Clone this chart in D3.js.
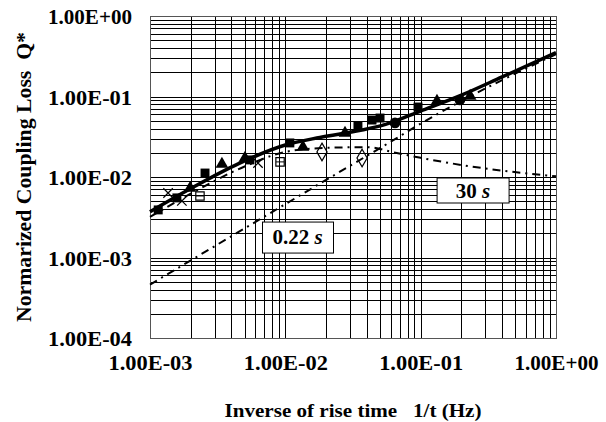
<!DOCTYPE html>
<html>
<head>
<meta charset="utf-8">
<script src="https://cdn.jsdelivr.net/npm/d3@7"></script>
<style>
body { margin: 0; background: #fff; }
text { font-family: "Liberation Serif", "Times New Roman", serif; font-weight: bold; fill: #000; white-space: pre; }
</style>
</head>
<body>
<svg id="chart" width="606" height="422"></svg>
<script>
/*
Chart data
*/
var xTickVals = [1e-3, 1e-2, 1e-1, 1];
var xTickLabels = ["1.00E-03", "1.00E-02", "1.00E-01", "1.00E+00"];
var yTickVals = [1e-4, 1e-3, 1e-2, 1e-1, 1];
var yTickLabels = ["1.00E-04", "1.00E-03", "1.00E-02", "1.00E-01", "1.00E+00"];

// fitted total curve
var totalF = [1e-3, 2e-3, 4.6e-3, 0.01, 0.018, 0.036, 0.055, 0.1, 0.2, 0.4, 1];
var totalQ = [3.7e-3, 7.2e-3, 0.0149, 0.025, 0.031, 0.038, 0.045, 0.066, 0.104, 0.175, 0.35];
// 30 s component
var slowF = [1e-3, 2e-3, 5e-3, 0.01, 0.02, 0.04, 0.065, 0.1, 0.2, 0.4, 1];
var slowQ = [3.2e-3, 6.2e-3, 0.0135, 0.0205, 0.023, 0.0235, 0.020, 0.0173, 0.0141, 0.012, 0.0102];
// 0.22 s component
var fastF = [1e-3, 2e-3, 5e-3, 0.01, 0.02, 0.04, 0.07, 0.1, 0.2, 0.4, 1];
var fastQ = [4.6e-4, 9.2e-4, 2.3e-3, 4.6e-3, 9.2e-3, 0.0183, 0.032, 0.046, 0.088, 0.16, 0.335];

// measured points
var sqF = [1.15e-3, 1.58e-3, 2.55e-3, 5.48e-3, 0.0108, 0.0344, 0.0437, 0.0501, 0.0956];
var sqQ = [3.9e-3, 5.5e-3, 0.0112, 0.0163, 0.0265, 0.043, 0.051, 0.054, 0.074];
var triF = [1.98e-3, 3.4e-3, 5.03e-3, 0.0135, 0.0276, 0.132, 0.232];
var triQ = [7.3e-3, 0.0145, 0.0172, 0.0236, 0.0352, 0.088, 0.1015];
var dotF = [0.0646, 0.195];
var dotQ = [0.0469, 0.0905];
var diaF = [0.01866, 0.0369];
var diaQ = [0.0205, 0.0172];
var crossF = [1.36e-3, 1.72e-3, 6.28e-3];
var crossQ = [6.33e-3, 5.04e-3, 0.0149];
var boxF = [2.34e-3, 9.14e-3];
var boxQ = [5.81e-3, 0.0154];

// curve labels
var noteText = ["30 ", "0.22 "];
var noteF = [0.244, 0.0123];
var noteQ = [0.0067, 0.0019];

/*
Helpers
*/
function zip(a, b){
  return a.map(function(d, i){ return [d, b[i]]; });
}

var svg = d3.select("#chart");
var plotLeft = 150, plotRight = 556, plotTop = 16, plotBottom = 338;

var x = d3.scaleLog().domain([1e-3, 1]).range([plotLeft, plotRight]);
var y = d3.scaleLog().domain([1e-4, 1]).range([plotBottom, plotTop]);

/*
Grid
*/
var grid = svg.append("g").attr("shape-rendering", "crispEdges");
grid.selectAll("line.v")
    .data(x.ticks())
    .enter()
    .append("line")
    .attr("x1", function(d){ return Math.round(x(d)) + 0.5; })
    .attr("x2", function(d){ return Math.round(x(d)) + 0.5; })
    .attr("y1", plotTop)
    .attr("y2", plotBottom)
    .style("stroke", "#000");
grid.selectAll("line.h")
    .data(y.ticks())
    .enter()
    .append("line")
    .attr("y1", function(d){ return Math.round(y(d)) + 0.5; })
    .attr("y2", function(d){ return Math.round(y(d)) + 0.5; })
    .attr("x1", plotLeft)
    .attr("x2", plotRight)
    .style("stroke", "#000");
grid.append("rect")
    .attr("x", plotLeft + 0.5)
    .attr("y", plotTop + 0.5)
    .attr("width", plotRight - plotLeft)
    .attr("height", plotBottom - plotTop)
    .style("fill", "none")
    .style("stroke", "#555");

/*
Axes
*/
var xAxis = svg.append("g")
    .attr("transform", "translate(0," + plotBottom + ")")
    .call(d3.axisBottom(x).tickValues(xTickVals)
      .tickFormat(function(d, i){ return xTickLabels[i]; })
      .tickSize(0).tickPadding(28));
var yAxis = svg.append("g")
    .attr("transform", "translate(" + (plotLeft - 18) + ",0)")
    .call(d3.axisLeft(y).tickValues(yTickVals)
      .tickFormat(function(d, i){ return yTickLabels[i]; })
      .tickSize(0).tickPadding(0));
svg.selectAll(".domain").remove();
svg.selectAll(".tick text")
   .style("font-family", "Liberation Serif")
   .style("font-weight", "bold")
   .style("font-size", "21px")
   .attr("textLength", 84)
   .attr("lengthAdjust", "spacingAndGlyphs");
yAxis.selectAll(".tick text").attr("dy", "0.38em");
xAxis.selectAll(".tick text").attr("dy", "0.2em");

svg.append("text")
   .attr("x", 353)
   .attr("y", 417)
   .attr("text-anchor", "middle")
   .attr("textLength", 257)
   .attr("lengthAdjust", "spacingAndGlyphs")
   .style("font-size", "19px")
   .text("Inverse of rise time   1/t (Hz)");
svg.append("text")
   .attr("transform", "translate(31,177) rotate(-90)")
   .attr("text-anchor", "middle")
   .attr("textLength", 290)
   .attr("lengthAdjust", "spacingAndGlyphs")
   .style("font-size", "21px")
   .text("Normarized Coupling Loss  Q*");

/*
Curves
*/
var line = d3.line()
    .x(function(d){ return x(d[0]); })
    .y(function(d){ return y(d[1]); })
    .curve(d3.curveMonotoneX);

svg.append("path")
   .attr("d", line(zip(fastF, fastQ)))
   .style("fill", "none")
   .style("stroke", "#000")
   .style("stroke-width", 2)
   .style("stroke-dasharray", "8,5,2,5");
svg.append("path")
   .attr("d", line(zip(slowF, slowQ)))
   .style("fill", "none")
   .style("stroke", "#000")
   .style("stroke-width", 2)
   .style("stroke-dasharray", "8,5,2,5");

/*
Markers
*/
function addMarkers(fs, qs, type, size, filled){
  svg.append("g")
     .selectAll("path")
     .data(zip(fs, qs))
     .enter()
     .append("path")
     .attr("transform", function(d){ return "translate(" + x(d[0]) + "," + y(d[1]) + ")"; })
     .attr("d", d3.symbol().type(type).size(size))
     .style("fill", filled ? "#000" : "none")
     .style("stroke", "#000")
     .style("stroke-width", filled ? 0 : 1.2);
}
var xSymbol = d3.symbolTimes || d3.symbolX || d3.symbolCross;
addMarkers(diaF, diaQ, d3.symbolDiamond, 90, false);
addMarkers(crossF, crossQ, xSymbol, 60, false);
addMarkers(boxF, boxQ, d3.symbolSquare, 70, false);
svg.append("g")
   .selectAll("line")
   .data(zip(boxF, boxQ))
   .enter()
   .append("line")
   .attr("x1", function(d){ return x(d[0]) - 4; })
   .attr("x2", function(d){ return x(d[0]) + 4; })
   .attr("y1", function(d){ return y(d[1]); })
   .attr("y2", function(d){ return y(d[1]); })
   .style("stroke", "#000");

svg.append("path")
   .attr("d", line(zip(totalF, totalQ)))
   .style("fill", "none")
   .style("stroke", "#000")
   .style("stroke-width", 3.5);

addMarkers(sqF, sqQ, d3.symbolSquare, 80, true);
addMarkers(triF, triQ, d3.symbolTriangle, 70, true);
addMarkers(dotF, dotQ, d3.symbolCircle, 90, true);

/*
Curve labels
*/
var notes = svg.append("g")
    .selectAll("g")
    .data(noteText)
    .enter()
    .append("g")
    .attr("transform", function(d, i){ return "translate(" + x(noteF[i]) + "," + y(noteQ[i]) + ")"; });
notes.append("rect")
     .attr("x", function(d, i){ return i == 0 ? -36 : -35; })
     .attr("y", -13)
     .attr("width", function(d, i){ return i == 0 ? 72 : 71; })
     .attr("height", function(d, i){ return i == 0 ? 25 : 31; })
     .style("fill", "#fff")
     .style("stroke", "#000")
     .style("stroke-width", 1);
var noteLabel = notes.append("text")
     .attr("text-anchor", "middle")
     .attr("y", function(d, i){ return i == 0 ? 7 : 9; })
     .style("font-size", "21px");
noteLabel.append("tspan").text(function(d){ return d; });
noteLabel.append("tspan").style("font-style", "italic").text("s");
</script>
</body>
</html>
